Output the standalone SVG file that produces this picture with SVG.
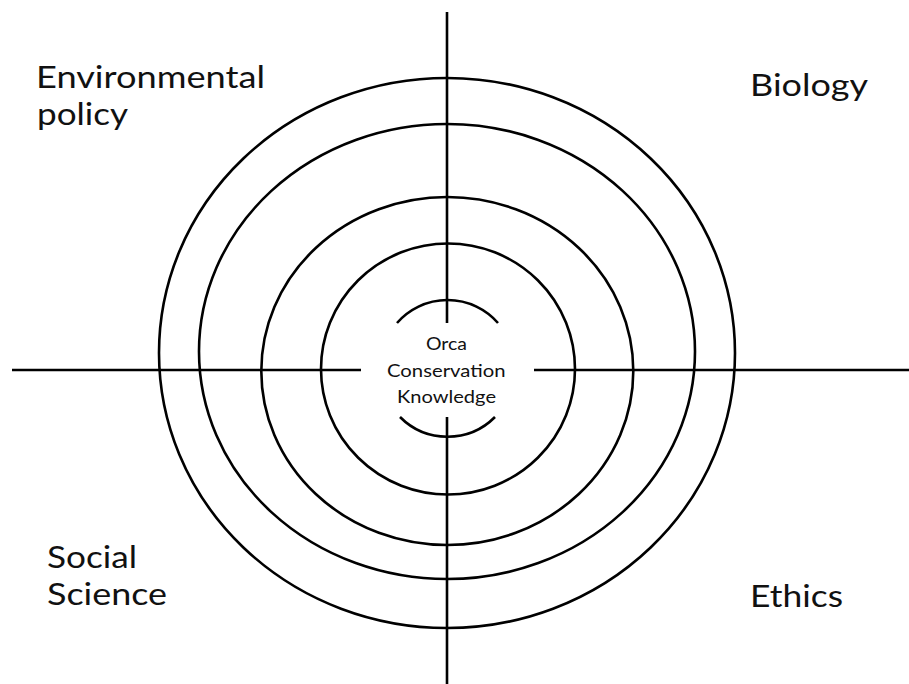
<svg xmlns="http://www.w3.org/2000/svg" width="909" height="684" viewBox="0 0 909 684">
  <style>
    .ring { fill: none; stroke: #000; stroke-width: 2.6; }
    .axis { fill: none; stroke: #000; stroke-width: 2.6; }
    .label { font-family: Lato, "Open Sans", sans-serif; font-size: 30px; fill: #111; }
    .core { font-family: Lato, "Open Sans", sans-serif; font-size: 18px; fill: #111; }
  </style>
  <rect width="909" height="684" fill="#fff"/>

  <!-- concentric rings -->
  <g id="rings">
    <ellipse id="ring-4" class="ring" cx="447" cy="353" rx="288" ry="275"/>
    <ellipse id="ring-3" class="ring" cx="447" cy="351.5" rx="248" ry="227.5"/>
    <ellipse id="ring-2" class="ring" cx="447.3" cy="371" rx="186" ry="174"/>
    <ellipse id="ring-1" class="ring" cx="448" cy="369" rx="127" ry="125.5"/>
  </g>

  <!-- quadrant axes -->
  <g id="connectors">
    <line class="axis" x1="12" y1="370" x2="361" y2="370"/>
    <line class="axis" x1="534" y1="370" x2="909" y2="370"/>
    <line class="axis" x1="447" y1="12" x2="447" y2="323"/>
    <line class="axis" x1="447" y1="417" x2="447" y2="684"/>
  </g>

  <!-- core: brackets and label -->
  <g id="core">
    <path class="ring" d="M 397 323 A 67 67 0 0 1 498 323"/>
    <path class="ring" d="M 400 417 A 67 67 0 0 0 495 417"/>
    <text class="core" x="426" y="350" textLength="41" lengthAdjust="spacingAndGlyphs">Orca</text>
    <text class="core" x="387" y="376.5" textLength="118.5" lengthAdjust="spacingAndGlyphs">Conservation</text>
    <text class="core" x="397" y="403" textLength="99" lengthAdjust="spacingAndGlyphs">Knowledge</text>
  </g>

  <g id="environmental-policy">
    <text class="label" x="36" y="88" textLength="229" lengthAdjust="spacingAndGlyphs">Environmental</text>
    <text class="label" x="37" y="125" textLength="91" lengthAdjust="spacingAndGlyphs">policy</text>
  </g>
  <g id="biology">
    <text class="label" x="750" y="96" textLength="118" lengthAdjust="spacingAndGlyphs">Biology</text>
  </g>
  <g id="social-science">
    <text class="label" x="47" y="568" textLength="90" lengthAdjust="spacingAndGlyphs">Social</text>
    <text class="label" x="47" y="605" textLength="120" lengthAdjust="spacingAndGlyphs">Science</text>
  </g>
  <g id="ethics">
    <text class="label" x="750" y="607" textLength="93" lengthAdjust="spacingAndGlyphs">Ethics</text>
  </g>
</svg>
